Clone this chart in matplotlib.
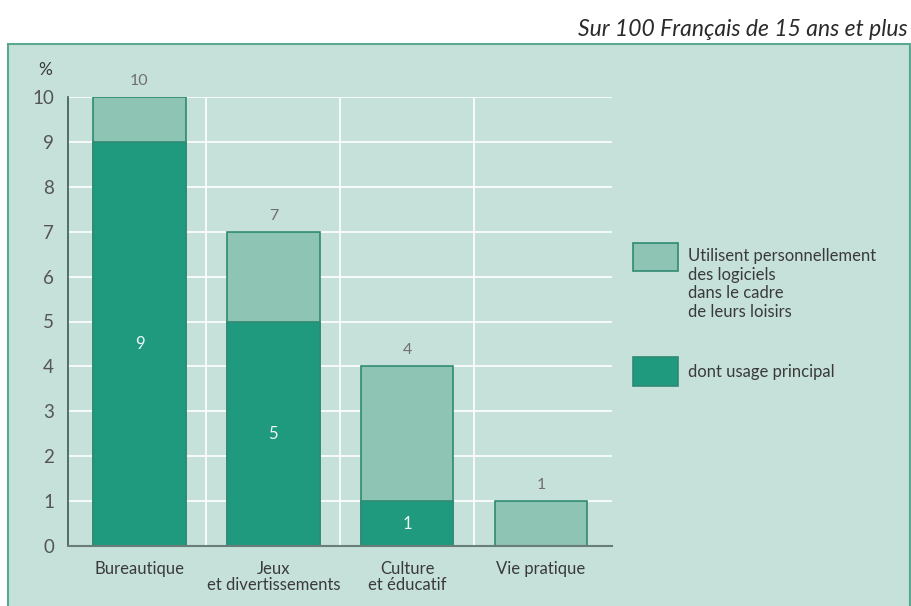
import matplotlib.pyplot as plt
from matplotlib.patches import Rectangle
import numpy as np

categories = ["Bureautique", "Jeux\net divertissements", "Culture\net éducatif", "Vie pratique"]
total_use = [10, 7, 4, 1]
main_use = [9, 5, 1, 0]
legend_labels = ["Utilisent personnellement\ndes logiciels\ndans le cadre\nde leurs loisirs",
                 "dont usage principal"]

BG = "#c5e1d9"
LIGHT = "#8dc4b3"
DARK = "#1f9a7f"
EDGE = "#2f8a72"
TEXT = "#3a3a3a"

plt.rcParams["font.family"] = ["Lato", "DejaVu Sans"]

fig = plt.figure(figsize=(9.12, 6.06), dpi=100)
fig.patch.set_facecolor("white")

# green panel behind the chart
W, H = 912, 606
fig.patches.append(Rectangle((8 / W, -0.01), 902 / W, 1 - 44 / H + 0.01,
                             transform=fig.transFigure, facecolor=BG,
                             edgecolor="#5aa890", linewidth=1.5, zorder=-5))

ax = fig.add_axes([68 / W, 1 - 546 / H, 544 / W, 449 / H])
ax.set_facecolor("none")

x = np.arange(len(categories))
width = 0.69
ax.bar(x, total_use, width, color=LIGHT, edgecolor=EDGE, linewidth=1.2, zorder=3)
ax.bar(x, main_use, width, color=DARK, edgecolor=EDGE, linewidth=1.2, zorder=4)

for xi, t, m in zip(x, total_use, main_use):
    ax.text(xi, t + 0.2, str(t), ha="center", va="bottom", fontsize=11.5,
            color="#707070", zorder=5)
    if m > 0:
        ax.text(xi, m / 2, str(m), ha="center", va="center", fontsize=12,
                color="#eef7f4", zorder=5)

ax.set_xlim(-0.534, 3.53)
ax.set_ylim(0, 10)
ax.set_yticks(range(0, 11))
ax.set_xticks(x)
ax.set_xticklabels(categories, fontsize=12, color=TEXT, linespacing=1.0)
ax.tick_params(axis="y", length=0, pad=10, labelsize=13.5, labelcolor="#555555")
ax.tick_params(axis="x", length=0, pad=11)

for y in range(1, 11):
    ax.axhline(y, color="white", linewidth=1.2, zorder=1)
for xv in [0.5, 1.5, 2.5]:
    ax.axvline(xv, color="white", linewidth=1.2, zorder=1)

for s in ["top", "right"]:
    ax.spines[s].set_visible(False)
ax.spines["left"].set_color("#3c5a52")
ax.spines["bottom"].set_color("#6b7d78")
ax.spines["bottom"].set_linewidth(1.5)
ax.spines["left"].set_linewidth(1.2)
ax.spines["bottom"].set_zorder(6)

fig.text(45 / W, 1 - 70 / H, "%", ha="center", va="center", fontsize=12.5, color=TEXT)

fig.text(908 / W, 1 - 30 / H, "Sur 100 Français de 15 ans et plus", ha="right",
         va="center", fontsize=16.5, style="italic", color="#2a2a2a")

# legend
fig.patches.append(Rectangle((633 / W, 1 - 271 / H), 45 / W, 28 / H,
                             transform=fig.transFigure, facecolor=LIGHT,
                             edgecolor=EDGE, linewidth=1.2))
fig.patches.append(Rectangle((633 / W, 1 - 386 / H), 45 / W, 29 / H,
                             transform=fig.transFigure, facecolor=DARK,
                             edgecolor=EDGE, linewidth=1.2))
fig.text(688 / W, 1 - 248 / H, legend_labels[0], ha="left", va="top",
         fontsize=12, color=TEXT, linespacing=1.2)
fig.text(688 / W, 1 - 372 / H, legend_labels[1], ha="left", va="center",
         fontsize=12, color=TEXT)

fig.savefig("out.png", dpi=100, facecolor="white")
